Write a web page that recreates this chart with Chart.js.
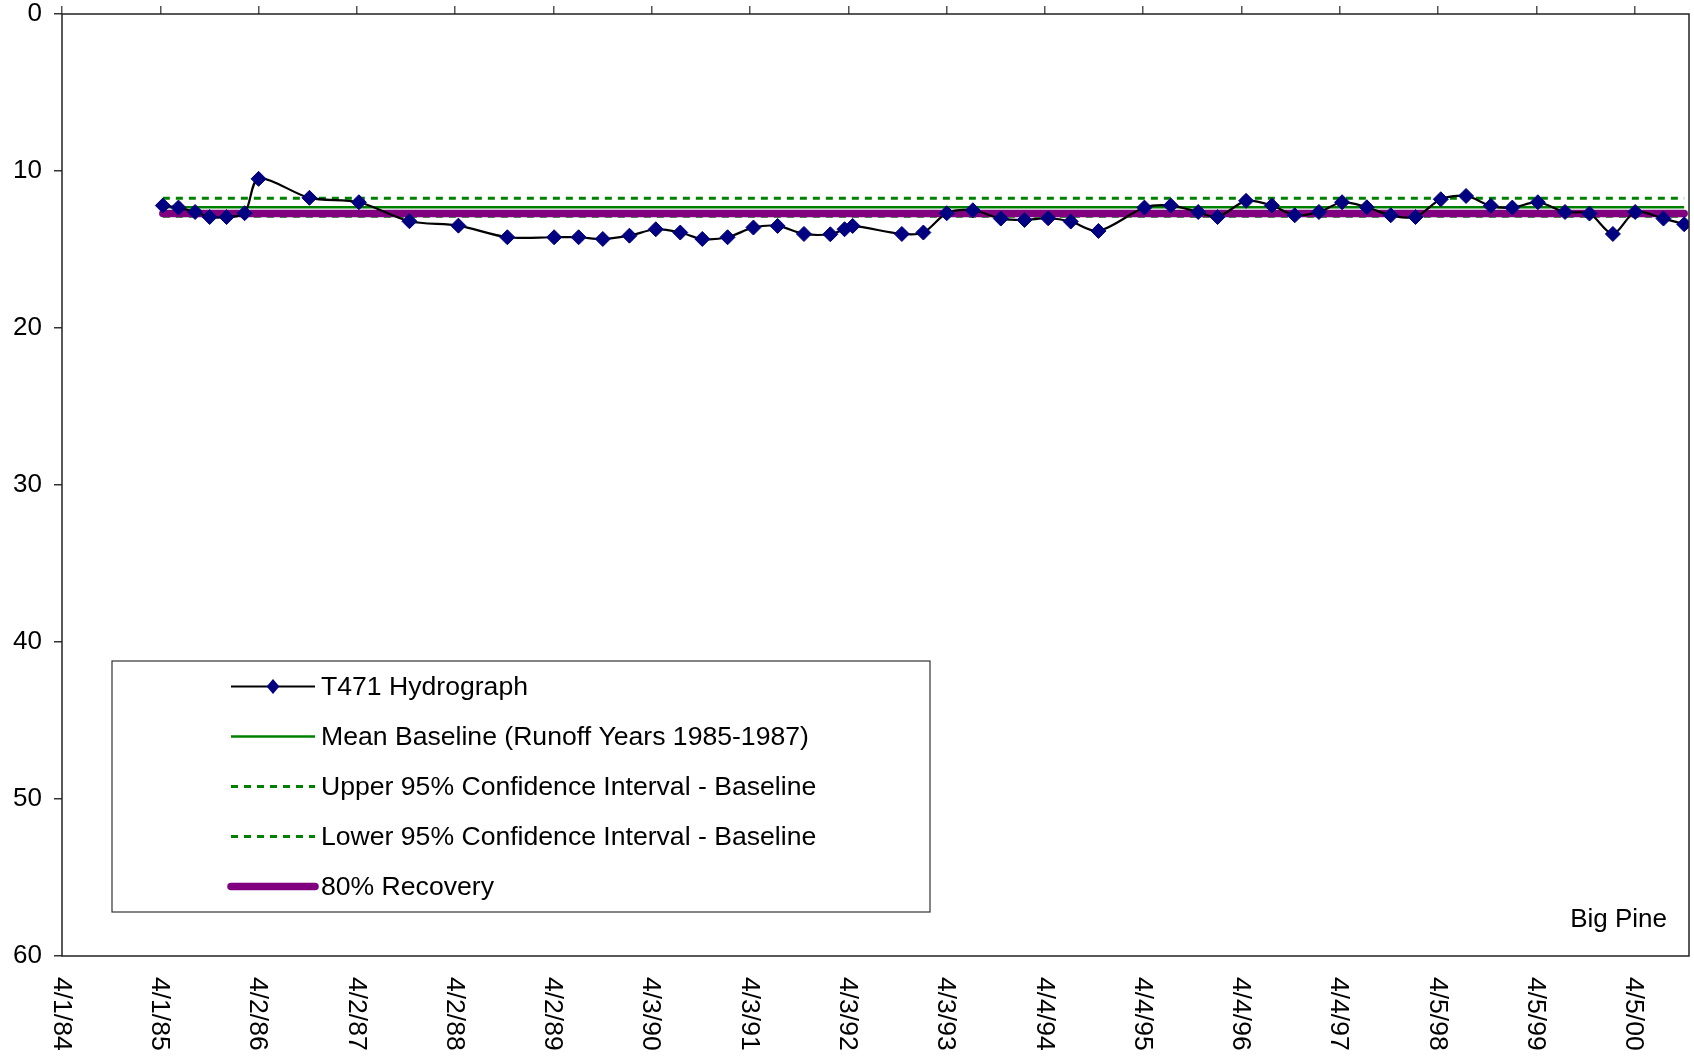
<!DOCTYPE html>
<html>
<head>
<meta charset="utf-8">
<script src="https://cdn.jsdelivr.net/npm/chart.js@4/dist/chart.umd.min.js"></script>
<style>
  html, body { margin: 0; padding: 0; background: #fff; }
  #wrap { width: 1694px; height: 1056px; }
</style>
</head>
<body>
<div id="wrap"><canvas id="hydro" width="1694" height="1056"></canvas></div>
<script>
// T471 hydrograph, Big Pine - depth to water (ft)
const sampleDates = [
  '4/11/85', '6/8/85', '8/9/85', '10/2/85', '12/4/85', '2/9/86', '4/2/86', '10/8/86',
  '4/10/87', '10/15/87', '4/14/88', '10/13/88', '4/5/89', '7/5/89', '10/3/89', '1/10/90',
  '4/18/90', '7/18/90', '10/8/90', '1/10/91', '4/16/91', '7/15/91', '10/21/91', '1/27/92',
  '3/20/92', '4/19/92', '10/19/92', '1/7/93', '4/4/93', '7/10/93', '10/22/93', '1/18/94',
  '4/16/94', '7/9/94', '10/20/94', '4/9/95', '7/16/95', '10/26/95', '1/6/96', '4/21/96',
  '7/26/96', '10/19/96', '1/17/97', '4/13/97', '7/14/97', '10/11/97', '1/11/98', '4/15/98',
  '7/18/98', '10/18/98', '1/6/99', '4/11/99', '7/21/99', '10/20/99', '1/15/00', '4/7/00',
  '7/21/00', '10/6/00'
];
const depthValues = [
  12.2, 12.33, 12.61, 12.93, 12.93, 12.69, 10.5, 11.71,
  11.99, 13.2, 13.48, 14.22, 14.22, 14.22, 14.33, 14.12,
  13.71, 13.92, 14.33, 14.22, 13.6, 13.5, 14.01, 14.03,
  13.71, 13.5, 14.01, 13.92, 12.69, 12.5, 13.03, 13.12,
  13.01, 13.22, 13.82, 12.33, 12.2, 12.61, 12.93, 11.9,
  12.2, 12.82, 12.61, 11.99, 12.31, 12.82, 12.93, 11.8,
  11.59, 12.22, 12.33, 11.99, 12.61, 12.71, 14.01, 12.61,
  13.03, 13.39
];

// reference levels
const meanBaseline = 12.31;
const upperCI = 11.74;
const lowerCI = 12.88;
const recovery80 = 12.7;

const seriesLabels = [
  'T471 Hydrograph',
  'Mean Baseline (Runoff Years 1985-1987)',
  'Upper 95% Confidence Interval - Baseline',
  'Lower 95% Confidence Interval - Baseline',
  '80% Recovery'
];

// x axis: days after 4/1/84, Excel-style major unit
const axisStart = '4/1/84';
const axisEndDays = 6050;
const majorUnitDays = 365.5;
const yTicks = [0, 10, 20, 30, 40, 50, 60];
const siteName = 'Big Pine';

const DAY = 86400000;
function parseDate(s) {
  const [m, d, y] = s.split('/').map(Number);
  const yr = y < 50 ? 2000 + y : 1900 + y;
  return Date.UTC(yr, m - 1, d);
}
const origin = parseDate(axisStart);
const toDays = s => (parseDate(s) - origin) / DAY;
function fmtDate(v) {
  const dt = new Date(origin + v * DAY);
  const yy = String(dt.getUTCFullYear() % 100).padStart(2, '0');
  return (dt.getUTCMonth() + 1) + '/' + dt.getUTCDate() + '/' + yy;
}

const hydroPts = sampleDates.map((s, i) => ({ x: toDays(s), y: depthValues[i] }));
const firstX = hydroPts[0].x;
const lastX = hydroPts[hydroPts.length - 1].x;
const flat = v => [{ x: firstX, y: v }, { x: lastX, y: v }];

const FONT = "'Liberation Sans', Arial, sans-serif";
const GREEN = '#008000';
const PURPLE = '#800080';
const NAVY = '#000080';

const ctx = document.getElementById('hydro').getContext('2d');

const framePlugin = {
  id: 'frame',
  beforeDraw(chart) {
    const c = chart.ctx;
    c.save();
    c.fillStyle = '#fff';
    c.fillRect(0, 0, chart.width, chart.height);
    c.restore();
  },
  afterDraw(chart) {
    const c = chart.ctx;
    const ca = chart.chartArea;
    c.save();
    c.strokeStyle = '#222';
    c.lineWidth = 1.5;
    c.strokeRect(ca.left, ca.top, ca.right - ca.left, ca.bottom - ca.top);

    // date labels, rotated clockwise like the original
    const xs = chart.scales.x;
    c.fillStyle = '#000';
    c.font = '26.5px ' + FONT;
    c.textAlign = 'left';
    c.textBaseline = 'middle';
    xs.ticks.forEach(t => {
      const px = xs.getPixelForValue(t.value);
      c.save();
      c.translate(px - 1, ca.bottom + 21);
      c.rotate(Math.PI / 2);
      c.fillText(fmtDate(t.value), 0, 0);
      c.restore();
    });

    // site name
    c.font = '26px ' + FONT;
    c.textAlign = 'right';
    c.textBaseline = 'alphabetic';
    c.fillText(siteName, ca.right - 22, ca.bottom - 29);

    // legend box
    const bx = ca.left + 50, by = ca.top + 647, bw = 818, bh = 251;
    c.fillStyle = '#fff';
    c.fillRect(bx, by, bw, bh);
    c.strokeStyle = '#333';
    c.lineWidth = 1.2;
    c.strokeRect(bx, by, bw, bh);

    const sx0 = bx + 119, sx1 = bx + 203, tx = bx + 209;
    c.font = '26.6px ' + FONT;
    chart.data.datasets.forEach((ds, i) => {
      const ry = by + 25.5 + i * 50;
      c.save();
      c.strokeStyle = ds.borderColor;
      c.lineWidth = ds.borderWidth;
      c.lineCap = ds.borderCapStyle || 'butt';
      c.setLineDash(ds.borderDash || []);
      c.beginPath();
      c.moveTo(sx0, ry);
      c.lineTo(sx1, ry);
      c.stroke();
      c.restore();
      if (ds.pointRadius > 0) {
        const mx = (sx0 + sx1) / 2, r = 7.5;
        c.fillStyle = ds.pointBackgroundColor;
        c.beginPath();
        c.moveTo(mx, ry - r);
        c.lineTo(mx + r * 0.85, ry);
        c.lineTo(mx, ry + r);
        c.lineTo(mx - r * 0.85, ry);
        c.closePath();
        c.fill();
      }
      c.fillStyle = '#000';
      c.textAlign = 'left';
      c.textBaseline = 'middle';
      c.fillText(ds.label, tx, ry + 1);
    });
    c.restore();
  }
};

const noSidePad = s => { s.paddingLeft = 0; s.paddingRight = 0; };

new Chart(ctx, {
  type: 'line',
  data: {
    datasets: [
      {
        label: seriesLabels[0],
        data: hydroPts,
        borderColor: '#000',
        borderWidth: 2.2,
        tension: 0.3,
        pointStyle: 'rectRot',
        pointRadius: 7.5,
        pointBackgroundColor: NAVY,
        pointBorderColor: NAVY,
        pointBorderWidth: 1,
        order: 0
      },
      {
        label: seriesLabels[1],
        data: flat(meanBaseline),
        borderColor: GREEN,
        borderWidth: 2.5,
        pointRadius: 0,
        order: 2
      },
      {
        label: seriesLabels[2],
        data: flat(upperCI),
        borderColor: GREEN,
        borderWidth: 3,
        borderDash: [7, 6],
        pointRadius: 0,
        order: 3
      },
      {
        label: seriesLabels[3],
        data: flat(lowerCI),
        borderColor: GREEN,
        borderWidth: 3,
        borderDash: [7, 6],
        pointRadius: 0,
        order: 4
      },
      {
        label: seriesLabels[4],
        data: flat(recovery80),
        borderColor: PURPLE,
        borderWidth: 7.5,
        borderCapStyle: 'round',
        pointRadius: 0,
        order: 1
      }
    ]
  },
  options: {
    responsive: false,
    animation: false,
    layout: { autoPadding: false, padding: { left: 0, right: 5, top: 0, bottom: 0 } },
    plugins: {
      legend: { display: false },
      tooltip: { enabled: false }
    },
    scales: {
      x: {
        type: 'linear',
        position: 'bottom',
        min: 0,
        max: axisEndDays,
        ticks: { stepSize: majorUnitDays, includeBounds: false, display: false },
        grid: { display: false },
        border: { display: false },
        afterFit: s => { s.height = 100; noSidePad(s); }
      },
      xTop: {
        type: 'linear',
        position: 'top',
        min: 0,
        max: axisEndDays,
        ticks: { stepSize: majorUnitDays, includeBounds: false, display: false },
        grid: { drawOnChartArea: false, tickLength: 8, color: '#555', lineWidth: 1.5 },
        border: { display: false },
        afterFit: s => { s.height = 14; noSidePad(s); }
      },
      y: {
        type: 'linear',
        reverse: true,
        min: yTicks[0],
        max: yTicks[yTicks.length - 1],
        afterBuildTicks: s => { s.ticks = yTicks.map(v => ({ value: v })); },
        ticks: {
          color: '#000',
          padding: 12,
          font: { family: FONT, size: 26 }
        },
        grid: { drawOnChartArea: false, tickLength: 8, color: '#333', lineWidth: 1.5 },
        border: { display: false },
        afterFit: s => { s.width = 62; s.paddingTop = 0; s.paddingBottom = 0; }
      }
    }
  },
  plugins: [framePlugin]
});
</script>
</body>
</html>
